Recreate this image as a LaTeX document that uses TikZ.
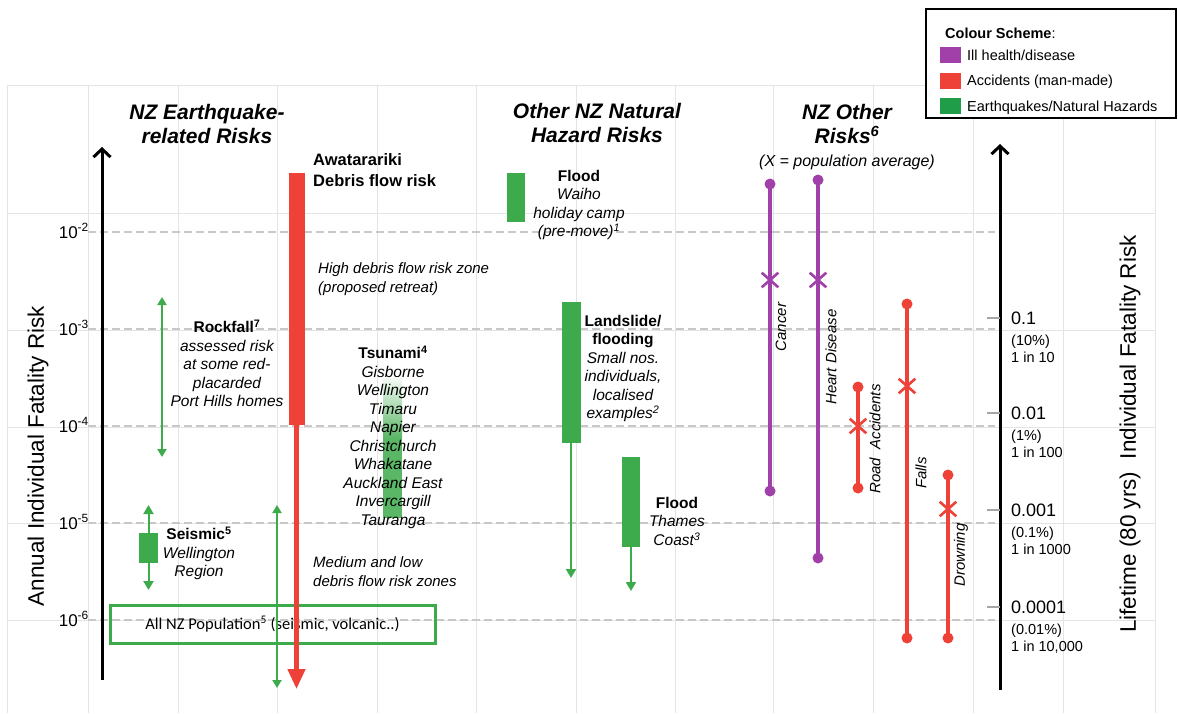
\documentclass[tikz,border=0pt]{standalone}
\usepackage{fontspec}
\setmainfont{Liberation Sans}
\newfontfamily\calibri{Carlito}
\usetikzlibrary{arrows.meta,shapes.misc}
\definecolor{cpurple}{HTML}{A040A8}
\definecolor{cred}{HTML}{EE4137}
\definecolor{cgreen}{HTML}{3DAA4B}
\definecolor{cgreenL}{HTML}{1F9D48}
\definecolor{gridc}{HTML}{E4E4E4}
\definecolor{dashc}{HTML}{C8C8C8}
\newcommand\fsz[2]{\fontsize{#1}{#2}\selectfont}
\tikzset{
  gridline/.style={draw=gridc, line width=1},
  dashline/.style={draw=dashc, line width=1.4, dash pattern=on 8pt off 4pt},
  axisline/.style={line width=3, -{Straight Barb[length=8pt,width=17pt]}},
  ticklbl/.style={anchor=base east, inner sep=0, font=\fsz{17}{20}},
  rtick/.style={draw=gray!70, line width=1.5},
  rbig/.style={anchor=base west, inner sep=0, font=\fsz{18}{20}},
  rsmall/.style={anchor=base west, inner sep=0, font=\fsz{14.5}{17}},
  title/.style={align=center, anchor=north, inner sep=0, font=\bfseries\itshape\fsz{21}{24.5}},
  lblc/.style={align=center, anchor=north, inner sep=0, font=\itshape\fsz{15.5}{18.5}},
  lbll/.style={align=left, anchor=north west, inner sep=0, font=\itshape\fsz{15}{19}},
  gbox/.style={fill=cgreen, inner sep=0},
  garrow/.style={draw=cgreen, line width=2, {Triangle[length=8pt,width=9pt]}-{Triangle[length=8pt,width=9pt]}},
  gdown/.style={draw=cgreen, line width=2, -{Triangle[length=9pt,width=10pt]}},
  dot/.style={circle, fill=#1, inner sep=0, minimum size=11},
  rline/.style={draw=#1, line width=4},
  xm/.style={cross out, draw=#1, line width=2.6, inner sep=0, minimum width=14, minimum height=12},
  rot/.style={rotate=90, inner sep=0, font=\itshape\fsz{15}{18}},
  swatch/.style={inner sep=0, minimum width=21, minimum height=16, fill=#1},
  legtxt/.style={anchor=base west, inner sep=0, font=\fsz{14.5}{17}},
  axlbl/.style={rotate=90, inner sep=0, font=\fsz{22.5}{26}},
}
\begin{document}
\begin{tikzpicture}[x=1pt,y=-1pt]
\useasboundingbox (0,0) rectangle (1178,713);
\fill[white] (0,0) rectangle (1178,713);
% grid
\foreach \x in {7,88,178,277,377,476,576,675,773,873,973,1063,1155}
  \draw[gridline] (\x,85) -- (\x,713);
\foreach \y in {85,213,330,427,523,620}
  \draw[gridline] (7,\y) -- (1155,\y);
\foreach \y in {232,329,426,523,620}
  \draw[dashline] (88,\y) -- (995,\y);

% left axis
\coordinate (laxB) at (102,680);
\coordinate (laxT) at (102,147);
\draw[axisline] (laxB) -- (laxT);
\node[ticklbl] (t2) at (89,238) {10\textsuperscript{-2}};
\node[ticklbl] (t3) at (89,335) {10\textsuperscript{-3}};
\node[ticklbl] (t4) at (89,432) {10\textsuperscript{-4}};
\node[ticklbl] (t5) at (89,529) {10\textsuperscript{-5}};
\node[ticklbl] (t6) at (89,626) {10\textsuperscript{-6}};
\node[axlbl] (ylab) at (38,456) {Annual Individual Fatality Risk};

% right axis
\coordinate (raxB) at (1000,690);
\coordinate (raxT) at (1000,144);
\draw[axisline] (raxB) -- (raxT);
\foreach \y/\n in {318/a,413/b,510/c,607/d}{
  \coordinate (rt\n) at (987,\y);
  \coordinate (ra\n) at (1000,\y);
  \draw[rtick] (rt\n) -- (ra\n);
}
\node[rbig] (r1a) at (1011,324.5) {0.1};
\node[rsmall] (r1b) at (1011,345) {(10\%)};
\node[rsmall] (r1c) at (1011,362) {1 in 10};
\node[rbig] (r2a) at (1011,419.5) {0.01};
\node[rsmall] (r2b) at (1011,440) {(1\%)};
\node[rsmall] (r2c) at (1011,457) {1 in 100};
\node[rbig] (r3a) at (1011,516.5) {0.001};
\node[rsmall] (r3b) at (1011,537) {(0.1\%)};
\node[rsmall] (r3c) at (1011,554) {1 in 1000};
\node[rbig] (r4a) at (1011,613.5) {0.0001};
\node[rsmall] (r4b) at (1011,634) {(0.01\%)};
\node[rsmall] (r4c) at (1011,651) {1 in 10,000};
\node[axlbl] (y2lab) at (1130,434) {Lifetime (80 yrs)\ \ Individual Fatality Risk};

% titles
\node[title] (tit1) at (207,104) {NZ Earthquake-\\related Risks};
\node[title] (tit2) at (597,103) {Other NZ Natural\\Hazard Risks};
\node[title] (tit3) at (847,104) {NZ Other\\Risks\textsuperscript{6}};
\node[inner sep=0, font=\itshape\fsz{16}{19}] (xavg) at (847,162) {(X = population average)};

% All NZ population box
\node[draw=cgreen, line width=3, minimum width=325, minimum height=38, inner sep=0,
      font=\calibri\fsz{16.5}{19}] (allnz) at (272.5,624) {All NZ Population\textsuperscript{5} (seismic, volcanic..)};

% Rockfall
\coordinate (rfT) at (162,297);
\coordinate (rfB) at (162,457);
\draw[garrow] (rfT) -- (rfB);
\node[lblc] (rock) at (227,320) {\textbf{\upshape Rockfall\textsuperscript{7}}\\assessed risk\\at some red-\\placarded\\Port Hills homes};

% Seismic
\node[gbox, minimum width=19, minimum height=30] (seis) at (148.5,548) {};
\coordinate (seT) at (148.5,505);
\coordinate (seB) at (148.5,590);
\draw[gdown] (seis.north) -- (seT);
\draw[gdown] (seis.south) -- (seB);
\node[lblc] (seisl) at (199,527) {\textbf{\upshape Seismic\textsuperscript{5}}\\Wellington\\Region};

% middle green double arrow
\coordinate (mgT) at (277,505);
\coordinate (mgB) at (277,688);
\draw[garrow] (mgT) -- (mgB);

% Awatarariki
\node[fill=cred, inner sep=0, minimum width=16, minimum height=252] (awbar) at (296.5,299) {};
\coordinate (awtip) at (296.5,689);
\draw[draw=cred, line width=4.5, -{Triangle[length=20pt,width=17pt]}] (awbar.south) -- (awtip);
\node[align=left, anchor=north west, inner sep=0, font=\bfseries\fsz{16.5}{21}] (awl) at (313,153) {Awatarariki\\Debris flow risk};
\node[lbll] (high) at (318,262) {High debris flow risk zone\\(proposed retreat)};
\node[lbll] (med) at (313,556) {Medium and low\\debris flow risk zones};

% Tsunami
\shade[top color=cgreen!6, bottom color=cgreen!85] (383,378) rectangle (402,438);
\node[fill=cgreen!85, inner sep=0, minimum width=19, minimum height=80.5, anchor=north] (tsbar) at (392.5,437.5) {};
\node[lblc] (tsu) at (393,346) {\textbf{\upshape Tsunami\textsuperscript{4}}\\Gisborne\\Wellington\\Timaru\\Napier\\Christchurch\\Whakatane\\Auckland East\\Invercargill\\Tauranga};

% Flood Waiho
\node[gbox, minimum width=18, minimum height=49] (waiho) at (515.5,197.5) {};
\node[lblc] (waihol) at (579,170) {\textbf{\upshape Flood}\\Waiho\\holiday camp\\(pre-move)\textsuperscript{1}};

% Landslide
\node[gbox, minimum width=19, minimum height=141] (land) at (571,372.5) {};
\coordinate (landtip) at (571,578);
\draw[gdown] (land.south) -- (landtip);
\node[lblc] (landl) at (623,315) {\textbf{\upshape Landslide/}\\\textbf{\upshape flooding}\\Small nos.\\individuals,\\localised\\examples\textsuperscript{2}};

% Flood Thames
\node[gbox, minimum width=18, minimum height=90] (thames) at (631,502) {};
\coordinate (thtip) at (631,591);
\draw[gdown] (thames.south) -- (thtip);
\node[lblc] (thamesl) at (677,497) {\textbf{\upshape Flood}\\Thames\\Coast\textsuperscript{3}};

% NZ other risks
\node[dot=cpurple] (ca1) at (770,184) {};
\node[dot=cpurple] (ca2) at (770,491) {};
\draw[rline=cpurple] (ca1.center) -- (ca2.center);
\node[xm=cpurple] (cax) at (770,280) {};
\node[rot] (cal) at (781,327) {Cancer};

\node[dot=cpurple] (hd1) at (818,180) {};
\node[dot=cpurple] (hd2) at (818,558) {};
\draw[rline=cpurple] (hd1.center) -- (hd2.center);
\node[xm=cpurple] (hdx) at (818,280) {};
\node[rot] (hdl) at (831,357) {Heart Disease};

\node[dot=cred] (ro1) at (858,387) {};
\node[dot=cred] (ro2) at (858,488) {};
\draw[rline=cred] (ro1.center) -- (ro2.center);
\node[xm=cred] (rox) at (858,426) {};
\node[rot] (rol) at (875,439) {Road\ \ Accidents};

\node[dot=cred] (fa1) at (907,304) {};
\node[dot=cred] (fa2) at (907,638) {};
\draw[rline=cred] (fa1.center) -- (fa2.center);
\node[xm=cred] (fax) at (907,386) {};
\node[rot] (fal) at (921,473) {Falls};

\node[dot=cred] (dr1) at (948,475) {};
\node[dot=cred] (dr2) at (948,638) {};
\draw[rline=cred] (dr1.center) -- (dr2.center);
\node[xm=cred] (drx) at (948,509) {};
\node[rot] (drl) at (961,555) {Drowning};

% legend
\node[draw=black, line width=1.6, fill=white, minimum width=250, minimum height=109, inner sep=0] (leg) at (1051,63.5) {};
\node[anchor=base west, inner sep=0, font=\bfseries\fsz{14.5}{17}] (legt) at (945,38) {Colour Scheme\mdseries:};
\node[swatch=cpurple] (sw1) at (950.5,55) {};
\node[swatch=cred] (sw2) at (950.5,80.5) {};
\node[swatch=cgreenL] (sw3) at (950.5,106) {};
\node[legtxt] (lg1) at (967,60) {Ill health/disease};
\node[legtxt] (lg2) at (967,85.5) {Accidents (man-made)};
\node[legtxt] (lg3) at (967,111) {Earthquakes/Natural Hazards};
\end{tikzpicture}
\end{document}
